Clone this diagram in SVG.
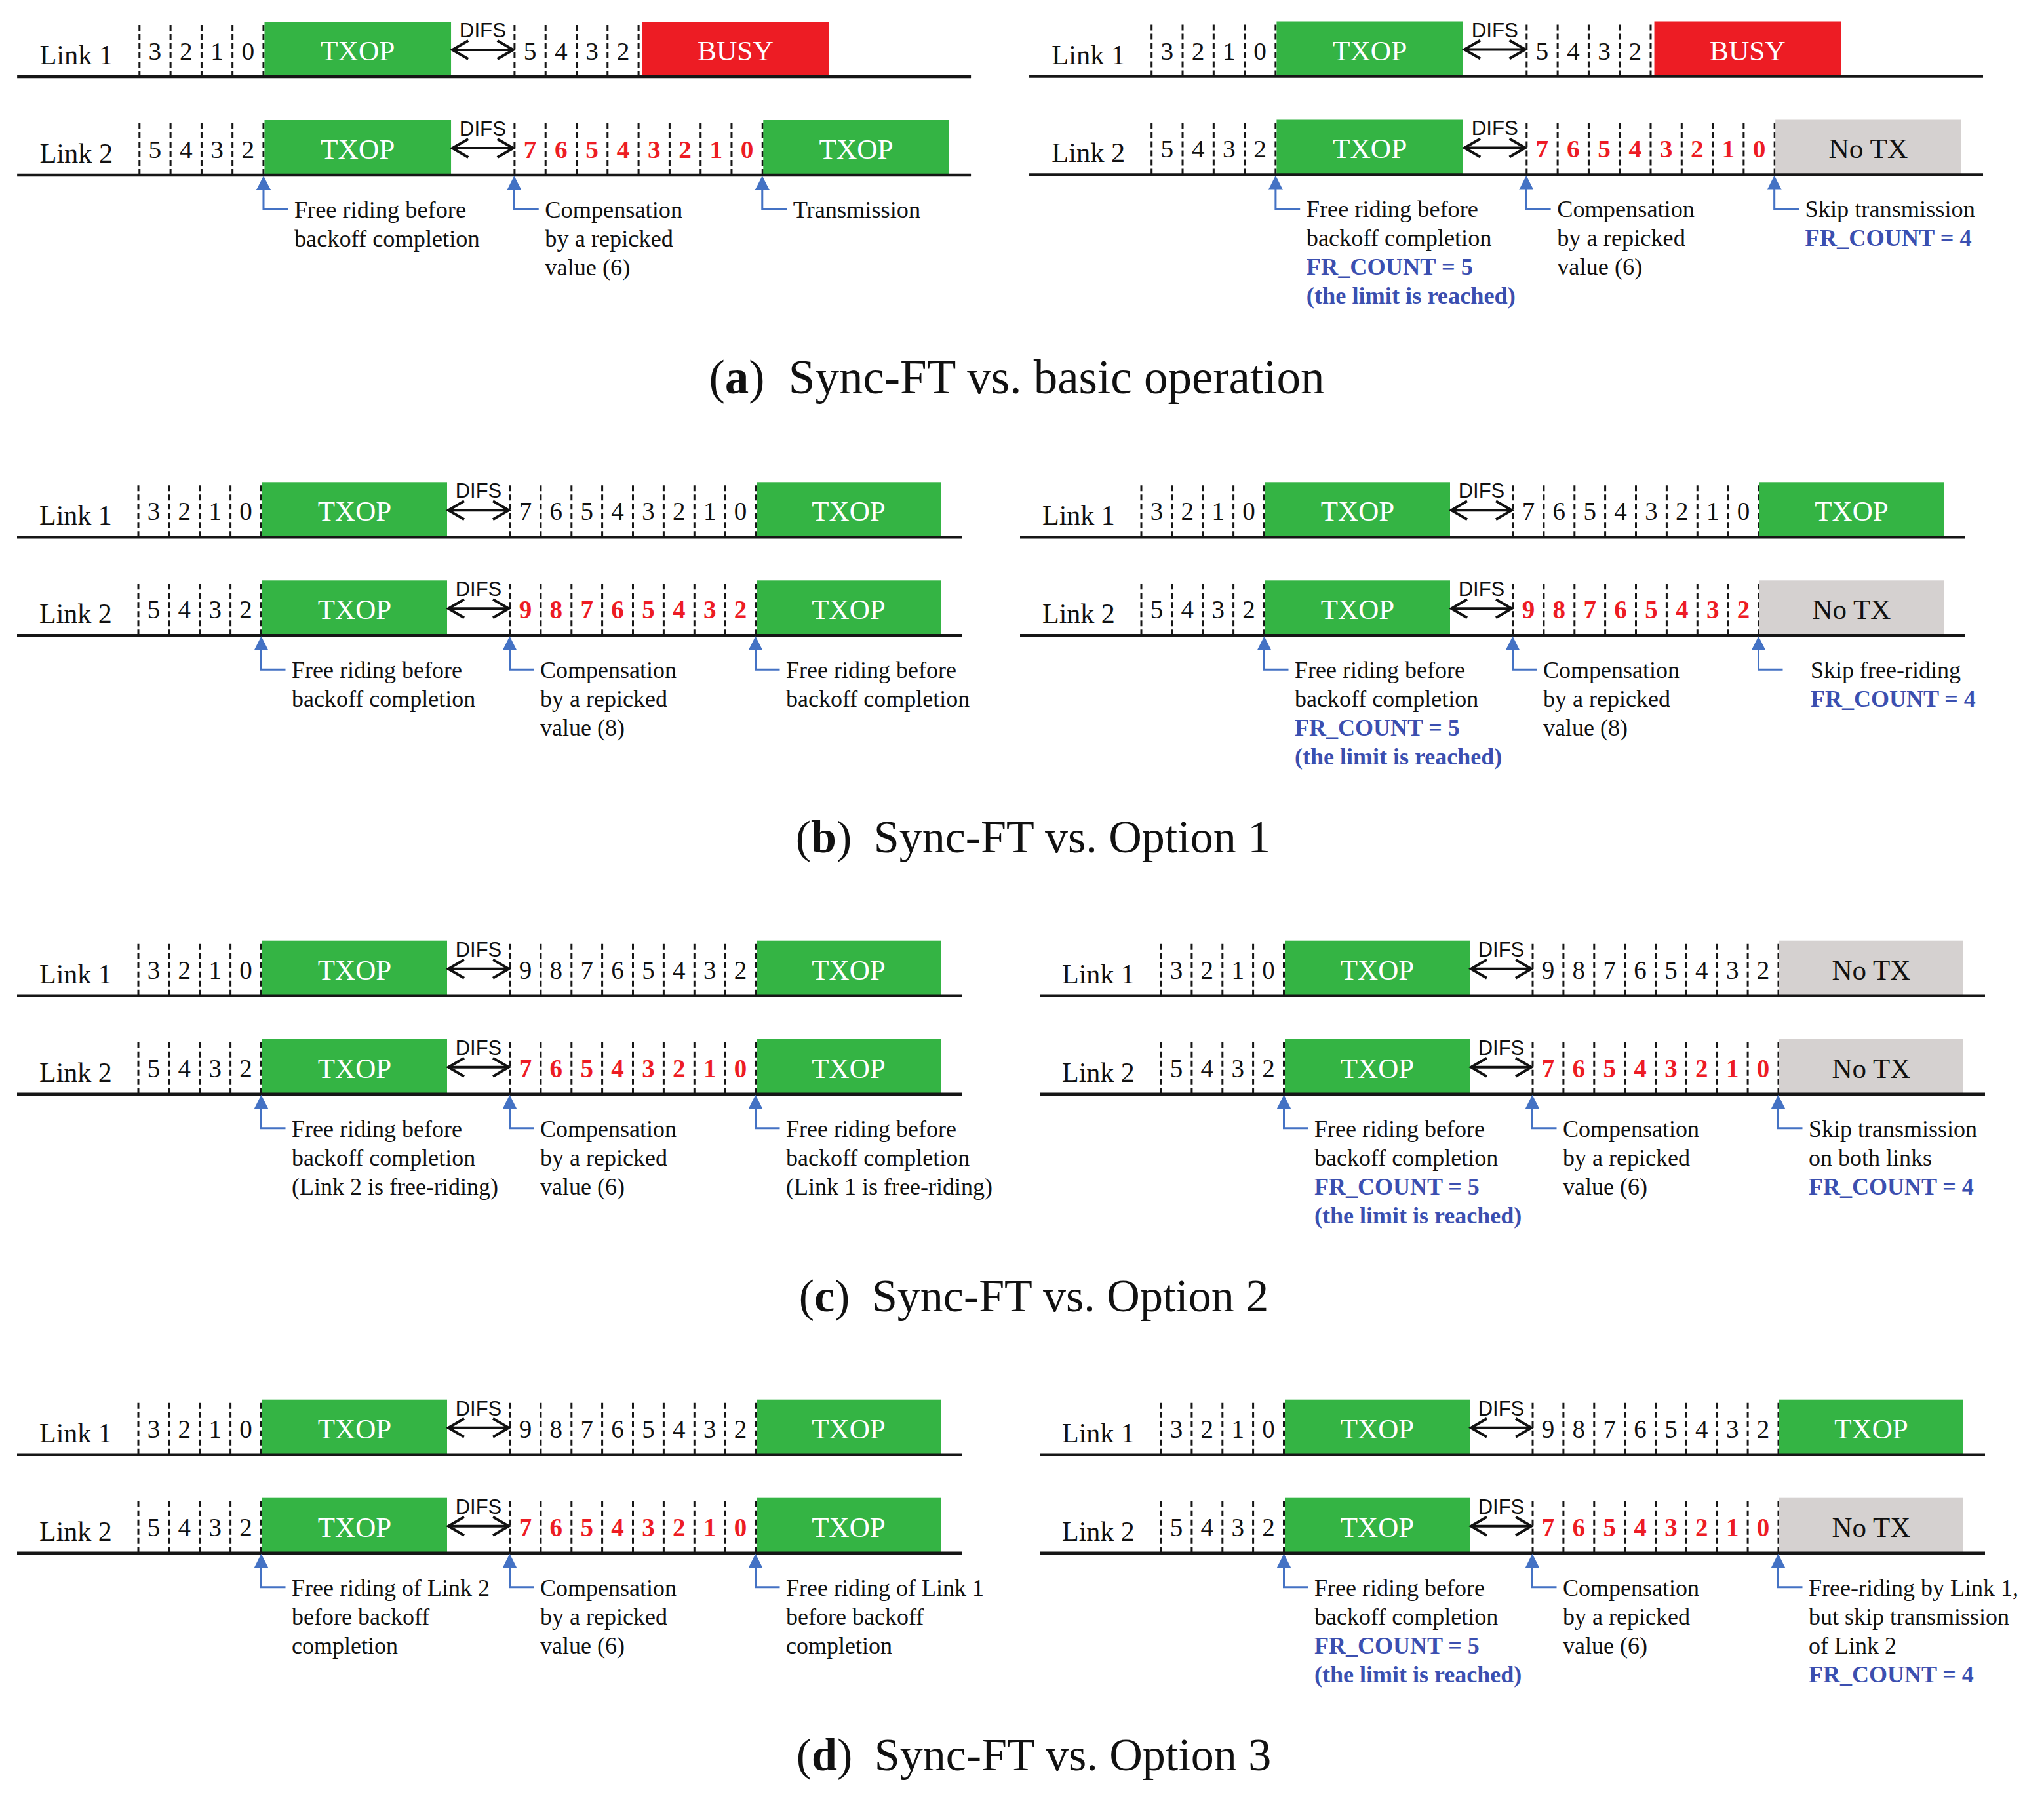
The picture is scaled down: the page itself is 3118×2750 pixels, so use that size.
<svg xmlns="http://www.w3.org/2000/svg" xmlns:xlink="http://www.w3.org/1999/xlink" width="3118" height="2750" viewBox="0 0 3118 2750">
<style>
.tl{stroke:#161616;stroke-width:4.5}
.dl{stroke:#161616;stroke-width:3;stroke-dasharray:9 5}
.g{fill:#34B444}
.r{fill:#ED1C24}
.n{fill:#D5D1D0}
.lb{font-family:"Liberation Serif",serif;font-size:42px;fill:#111}
.d{font-family:"Liberation Serif",serif;font-size:39px;fill:#111;text-anchor:middle}
.dr{font-family:"Liberation Serif",serif;font-size:39px;font-weight:bold;fill:#ED1C24;text-anchor:middle}
.w{font-family:"Liberation Serif",serif;font-size:43px;fill:#fff;text-anchor:middle}
.k{font-family:"Liberation Serif",serif;font-size:43px;fill:#111;text-anchor:middle}
.df{font-family:"Liberation Sans",sans-serif;font-size:31px;fill:#111;text-anchor:middle}
.da{stroke:#111;stroke-width:4;marker-start:url(#chev);marker-end:url(#chev)}
.a{font-family:"Liberation Serif",serif;font-size:36px;fill:#111}
.f{font-family:"Liberation Serif",serif;font-size:36px;font-weight:bold;fill:#3B4FB0}
.cap{font-family:"Liberation Serif",serif;font-size:73px;fill:#111;text-anchor:middle}
.cap2{font-family:"Liberation Serif",serif;font-size:70px;fill:#111;text-anchor:middle}
.con{fill:none;stroke:#4472C4;stroke-width:3;marker-end:url(#tri)}
</style>
<defs>
<marker id="tri" markerUnits="userSpaceOnUse" markerWidth="22" markerHeight="22" viewBox="0 0 22 22" refX="1" refY="11" orient="auto"><path d="M0,0L22,11L0,22z" fill="#4472C4"/></marker>
<marker id="chev" markerUnits="userSpaceOnUse" markerWidth="34" markerHeight="34" viewBox="-28 -17 34 34" refX="0" refY="0" orient="auto-start-reverse" overflow="visible"><path d="M-24,-14L0,0L-24,14" fill="none" stroke="#111" stroke-width="4"/></marker>
<g id="pre">
<line class="dl" x1="0" y1="-79" x2="0" y2="0"/><line class="dl" x1="46.9" y1="-79" x2="46.9" y2="0"/><line class="dl" x1="93.8" y1="-79" x2="93.8" y2="0"/><line class="dl" x1="140.6" y1="-79" x2="140.6" y2="0"/><line class="dl" x1="187.5" y1="-79" x2="187.5" y2="0"/>
</g>
<g id="post4">
<line class="dl" x1="567" y1="-79" x2="567" y2="0"/><line class="dl" x1="613.9" y1="-79" x2="613.9" y2="0"/><line class="dl" x1="660.8" y1="-79" x2="660.8" y2="0"/><line class="dl" x1="707.6" y1="-79" x2="707.6" y2="0"/><line class="dl" x1="754.5" y1="-79" x2="754.5" y2="0"/>
</g>
<g id="post">
<use xlink:href="#post4"/>
<line class="dl" x1="801.4" y1="-79" x2="801.4" y2="0"/><line class="dl" x1="848.3" y1="-79" x2="848.3" y2="0"/><line class="dl" x1="895.1" y1="-79" x2="895.1" y2="0"/><line class="dl" x1="942" y1="-79" x2="942" y2="0"/>
</g>
</defs>
<rect width="3118" height="2750" fill="#fff"/>

<!-- ===== (a) left ===== -->
<g id="panel-a-left" transform="translate(212.8,117) scale(1.009,1)">
<g id="aL-link1">
<use xlink:href="#pre"/><use xlink:href="#post4"/>
<text class="lb" x="-151" y="-19">Link 1</text>
<text class="d" x="23.4" y="-26">3</text><text class="d" x="70.3" y="-26">2</text><text class="d" x="117.2" y="-26">1</text><text class="d" x="164" y="-26">0</text>
<g id="aL-l1-txop"><rect class="g" x="189" y="-84" width="282" height="84"/><text class="w" x="330" y="-25">TXOP</text></g>
<text class="df" x="519" y="-60">DIFS</text><line class="da" x1="473" y1="-41" x2="565" y2="-41"/>
<text class="d" x="590.4" y="-26">5</text><text class="d" x="637.3" y="-26">4</text><text class="d" x="684.2" y="-26">3</text><text class="d" x="731.1" y="-26">2</text>
<g id="aL-l1-busy"><rect class="r" x="760" y="-84" width="282" height="84"/><text class="w" x="901" y="-25">BUSY</text></g>
<line class="tl" x1="-185" y1="0" x2="1257" y2="0"/>
</g>
<g id="aL-link2">
<use xlink:href="#pre" y="150"/><use xlink:href="#post" y="150"/>
<text class="lb" x="-151" y="131">Link 2</text>
<text class="d" x="23.4" y="124">5</text><text class="d" x="70.3" y="124">4</text><text class="d" x="117.2" y="124">3</text><text class="d" x="164" y="124">2</text>
<g id="aL-l2-txop"><rect class="g" x="189" y="66" width="282" height="84"/><text class="w" x="330" y="125">TXOP</text></g>
<text class="df" x="519" y="90">DIFS</text><line class="da" x1="473" y1="109" x2="565" y2="109"/>
<text class="dr" x="590.4" y="124">7</text><text class="dr" x="637.3" y="124">6</text><text class="dr" x="684.2" y="124">5</text><text class="dr" x="731.1" y="124">4</text><text class="dr" x="778" y="124">3</text><text class="dr" x="824.8" y="124">2</text><text class="dr" x="871.7" y="124">1</text><text class="dr" x="918.6" y="124">0</text>
<g id="aL-l2-txop2"><rect class="g" x="943" y="66" width="281" height="84"/><text class="w" x="1083.5" y="125">TXOP</text></g>
<line class="tl" x1="-185" y1="150" x2="1257" y2="150"/>
</g>
<g id="aL-notes">
<text class="a" x="234" y="215">Free riding before</text><text class="a" x="234" y="259">backoff completion</text>
<text class="a" x="613" y="215">Compensation</text><text class="a" x="613" y="259">by a repicked</text><text class="a" x="613" y="303">value (6)</text>
<text class="a" x="988" y="215">Transmission</text>
</g>
</g>

<!-- ===== (a) right ===== -->
<g id="panel-a-right" transform="translate(1756.7,116.5) scale(1.009,1)">
<g id="aR-link1">
<use xlink:href="#pre"/><use xlink:href="#post4"/>
<text class="lb" x="-151" y="-19">Link 1</text>
<text class="d" x="23.4" y="-26">3</text><text class="d" x="70.3" y="-26">2</text><text class="d" x="117.2" y="-26">1</text><text class="d" x="164" y="-26">0</text>
<g id="aR-l1-txop"><rect class="g" x="189" y="-84" width="282" height="84"/><text class="w" x="330" y="-25">TXOP</text></g>
<text class="df" x="519" y="-60">DIFS</text><line class="da" x1="473" y1="-41" x2="565" y2="-41"/>
<text class="d" x="590.4" y="-26">5</text><text class="d" x="637.3" y="-26">4</text><text class="d" x="684.2" y="-26">3</text><text class="d" x="731.1" y="-26">2</text>
<g id="aR-l1-busy"><rect class="r" x="760" y="-84" width="282" height="84"/><text class="w" x="901" y="-25">BUSY</text></g>
<line class="tl" x1="-185" y1="0" x2="1257" y2="0"/>
</g>
<g id="aR-link2">
<use xlink:href="#pre" y="150"/><use xlink:href="#post" y="150"/>
<text class="lb" x="-151" y="131">Link 2</text>
<text class="d" x="23.4" y="124">5</text><text class="d" x="70.3" y="124">4</text><text class="d" x="117.2" y="124">3</text><text class="d" x="164" y="124">2</text>
<g id="aR-l2-txop"><rect class="g" x="189" y="66" width="282" height="84"/><text class="w" x="330" y="125">TXOP</text></g>
<text class="df" x="519" y="90">DIFS</text><line class="da" x1="473" y1="109" x2="565" y2="109"/>
<text class="dr" x="590.4" y="124">7</text><text class="dr" x="637.3" y="124">6</text><text class="dr" x="684.2" y="124">5</text><text class="dr" x="731.1" y="124">4</text><text class="dr" x="778" y="124">3</text><text class="dr" x="824.8" y="124">2</text><text class="dr" x="871.7" y="124">1</text><text class="dr" x="918.6" y="124">0</text>
<g id="aR-l2-notx"><rect class="n" x="943" y="66" width="281" height="84"/><text class="k" x="1083.5" y="125">No TX</text></g>
<line class="tl" x1="-185" y1="150" x2="1257" y2="150"/>
</g>
<g id="aR-notes">
<text class="a" x="234" y="215">Free riding before</text><text class="a" x="234" y="259">backoff completion</text><text class="f" x="234" y="303">FR_COUNT = 5</text><text class="f" x="234" y="347">(the limit is reached)</text>
<text class="a" x="613" y="215">Compensation</text><text class="a" x="613" y="259">by a repicked</text><text class="a" x="613" y="303">value (6)</text>
<text class="a" x="988" y="215">Skip transmission</text><text class="f" x="988" y="259">FR_COUNT = 4</text>
</g>
</g>

<!-- ===== (b) left ===== -->
<g id="panel-b-left" transform="translate(211,819.3)">
<g id="bL-link1">
<use xlink:href="#pre"/><use xlink:href="#post"/>
<text class="lb" x="-151" y="-19">Link 1</text>
<text class="d" x="23.4" y="-26">3</text><text class="d" x="70.3" y="-26">2</text><text class="d" x="117.2" y="-26">1</text><text class="d" x="164" y="-26">0</text>
<g id="bL-l1-txop"><rect class="g" x="189" y="-84" width="282" height="84"/><text class="w" x="330" y="-25">TXOP</text></g>
<text class="df" x="519" y="-60">DIFS</text><line class="da" x1="473" y1="-41" x2="565" y2="-41"/>
<text class="d" x="590.4" y="-26">7</text><text class="d" x="637.3" y="-26">6</text><text class="d" x="684.2" y="-26">5</text><text class="d" x="731.1" y="-26">4</text><text class="d" x="778" y="-26">3</text><text class="d" x="824.8" y="-26">2</text><text class="d" x="871.7" y="-26">1</text><text class="d" x="918.6" y="-26">0</text>
<g id="bL-l1-txop2"><rect class="g" x="943" y="-84" width="281" height="84"/><text class="w" x="1083.5" y="-25">TXOP</text></g>
<line class="tl" x1="-185" y1="0" x2="1257" y2="0"/>
</g>
<g id="bL-link2">
<use xlink:href="#pre" y="150"/><use xlink:href="#post" y="150"/>
<text class="lb" x="-151" y="131">Link 2</text>
<text class="d" x="23.4" y="124">5</text><text class="d" x="70.3" y="124">4</text><text class="d" x="117.2" y="124">3</text><text class="d" x="164" y="124">2</text>
<g id="bL-l2-txop"><rect class="g" x="189" y="66" width="282" height="84"/><text class="w" x="330" y="125">TXOP</text></g>
<text class="df" x="519" y="90">DIFS</text><line class="da" x1="473" y1="109" x2="565" y2="109"/>
<text class="dr" x="590.4" y="124">9</text><text class="dr" x="637.3" y="124">8</text><text class="dr" x="684.2" y="124">7</text><text class="dr" x="731.1" y="124">6</text><text class="dr" x="778" y="124">5</text><text class="dr" x="824.8" y="124">4</text><text class="dr" x="871.7" y="124">3</text><text class="dr" x="918.6" y="124">2</text>
<g id="bL-l2-txop2"><rect class="g" x="943" y="66" width="281" height="84"/><text class="w" x="1083.5" y="125">TXOP</text></g>
<line class="tl" x1="-185" y1="150" x2="1257" y2="150"/>
</g>
<g id="bL-notes">
<text class="a" x="234" y="215">Free riding before</text><text class="a" x="234" y="259">backoff completion</text>
<text class="a" x="613" y="215">Compensation</text><text class="a" x="613" y="259">by a repicked</text><text class="a" x="613" y="303">value (8)</text>
<text class="a" x="988" y="215">Free riding before</text><text class="a" x="988" y="259">backoff completion</text>
</g>
</g>

<!-- ===== (b) right ===== -->
<g id="panel-b-right" transform="translate(1741,819.3)">
<g id="bR-link1">
<use xlink:href="#pre"/><use xlink:href="#post"/>
<text class="lb" x="-151" y="-19">Link 1</text>
<text class="d" x="23.4" y="-26">3</text><text class="d" x="70.3" y="-26">2</text><text class="d" x="117.2" y="-26">1</text><text class="d" x="164" y="-26">0</text>
<g id="bR-l1-txop"><rect class="g" x="189" y="-84" width="282" height="84"/><text class="w" x="330" y="-25">TXOP</text></g>
<text class="df" x="519" y="-60">DIFS</text><line class="da" x1="473" y1="-41" x2="565" y2="-41"/>
<text class="d" x="590.4" y="-26">7</text><text class="d" x="637.3" y="-26">6</text><text class="d" x="684.2" y="-26">5</text><text class="d" x="731.1" y="-26">4</text><text class="d" x="778" y="-26">3</text><text class="d" x="824.8" y="-26">2</text><text class="d" x="871.7" y="-26">1</text><text class="d" x="918.6" y="-26">0</text>
<g id="bR-l1-txop2"><rect class="g" x="943" y="-84" width="281" height="84"/><text class="w" x="1083.5" y="-25">TXOP</text></g>
<line class="tl" x1="-185" y1="0" x2="1257" y2="0"/>
</g>
<g id="bR-link2">
<use xlink:href="#pre" y="150"/><use xlink:href="#post" y="150"/>
<text class="lb" x="-151" y="131">Link 2</text>
<text class="d" x="23.4" y="124">5</text><text class="d" x="70.3" y="124">4</text><text class="d" x="117.2" y="124">3</text><text class="d" x="164" y="124">2</text>
<g id="bR-l2-txop"><rect class="g" x="189" y="66" width="282" height="84"/><text class="w" x="330" y="125">TXOP</text></g>
<text class="df" x="519" y="90">DIFS</text><line class="da" x1="473" y1="109" x2="565" y2="109"/>
<text class="dr" x="590.4" y="124">9</text><text class="dr" x="637.3" y="124">8</text><text class="dr" x="684.2" y="124">7</text><text class="dr" x="731.1" y="124">6</text><text class="dr" x="778" y="124">5</text><text class="dr" x="824.8" y="124">4</text><text class="dr" x="871.7" y="124">3</text><text class="dr" x="918.6" y="124">2</text>
<g id="bR-l2-notx"><rect class="n" x="943" y="66" width="281" height="84"/><text class="k" x="1083.5" y="125">No TX</text></g>
<line class="tl" x1="-185" y1="150" x2="1257" y2="150"/>
</g>
<g id="bR-notes">
<text class="a" x="234" y="215">Free riding before</text><text class="a" x="234" y="259">backoff completion</text><text class="f" x="234" y="303">FR_COUNT = 5</text><text class="f" x="234" y="347">(the limit is reached)</text>
<text class="a" x="613" y="215">Compensation</text><text class="a" x="613" y="259">by a repicked</text><text class="a" x="613" y="303">value (8)</text>
<text class="a" x="1021" y="215">Skip free-riding</text><text class="f" x="1021" y="259">FR_COUNT = 4</text>
</g>
</g>

<!-- ===== (c) left ===== -->
<g id="panel-c-left" transform="translate(211,1518.7)">
<g id="cL-link1">
<use xlink:href="#pre"/><use xlink:href="#post"/>
<text class="lb" x="-151" y="-19">Link 1</text>
<text class="d" x="23.4" y="-26">3</text><text class="d" x="70.3" y="-26">2</text><text class="d" x="117.2" y="-26">1</text><text class="d" x="164" y="-26">0</text>
<g id="cL-l1-txop"><rect class="g" x="189" y="-84" width="282" height="84"/><text class="w" x="330" y="-25">TXOP</text></g>
<text class="df" x="519" y="-60">DIFS</text><line class="da" x1="473" y1="-41" x2="565" y2="-41"/>
<text class="d" x="590.4" y="-26">9</text><text class="d" x="637.3" y="-26">8</text><text class="d" x="684.2" y="-26">7</text><text class="d" x="731.1" y="-26">6</text><text class="d" x="778" y="-26">5</text><text class="d" x="824.8" y="-26">4</text><text class="d" x="871.7" y="-26">3</text><text class="d" x="918.6" y="-26">2</text>
<g id="cL-l1-txop2"><rect class="g" x="943" y="-84" width="281" height="84"/><text class="w" x="1083.5" y="-25">TXOP</text></g>
<line class="tl" x1="-185" y1="0" x2="1257" y2="0"/>
</g>
<g id="cL-link2">
<use xlink:href="#pre" y="150"/><use xlink:href="#post" y="150"/>
<text class="lb" x="-151" y="131">Link 2</text>
<text class="d" x="23.4" y="124">5</text><text class="d" x="70.3" y="124">4</text><text class="d" x="117.2" y="124">3</text><text class="d" x="164" y="124">2</text>
<g id="cL-l2-txop"><rect class="g" x="189" y="66" width="282" height="84"/><text class="w" x="330" y="125">TXOP</text></g>
<text class="df" x="519" y="90">DIFS</text><line class="da" x1="473" y1="109" x2="565" y2="109"/>
<text class="dr" x="590.4" y="124">7</text><text class="dr" x="637.3" y="124">6</text><text class="dr" x="684.2" y="124">5</text><text class="dr" x="731.1" y="124">4</text><text class="dr" x="778" y="124">3</text><text class="dr" x="824.8" y="124">2</text><text class="dr" x="871.7" y="124">1</text><text class="dr" x="918.6" y="124">0</text>
<g id="cL-l2-txop2"><rect class="g" x="943" y="66" width="281" height="84"/><text class="w" x="1083.5" y="125">TXOP</text></g>
<line class="tl" x1="-185" y1="150" x2="1257" y2="150"/>
</g>
<g id="cL-notes">
<text class="a" x="234" y="215">Free riding before</text><text class="a" x="234" y="259">backoff completion</text><text class="a" x="234" y="303">(Link 2 is free-riding)</text>
<text class="a" x="613" y="215">Compensation</text><text class="a" x="613" y="259">by a repicked</text><text class="a" x="613" y="303">value (6)</text>
<text class="a" x="988" y="215">Free riding before</text><text class="a" x="988" y="259">backoff completion</text><text class="a" x="988" y="303">(Link 1 is free-riding)</text>
</g>
</g>

<!-- ===== (c) right ===== -->
<g id="panel-c-right" transform="translate(1771,1518.7)">
<g id="cR-link1">
<use xlink:href="#pre"/><use xlink:href="#post"/>
<text class="lb" x="-151" y="-19">Link 1</text>
<text class="d" x="23.4" y="-26">3</text><text class="d" x="70.3" y="-26">2</text><text class="d" x="117.2" y="-26">1</text><text class="d" x="164" y="-26">0</text>
<g id="cR-l1-txop"><rect class="g" x="189" y="-84" width="282" height="84"/><text class="w" x="330" y="-25">TXOP</text></g>
<text class="df" x="519" y="-60">DIFS</text><line class="da" x1="473" y1="-41" x2="565" y2="-41"/>
<text class="d" x="590.4" y="-26">9</text><text class="d" x="637.3" y="-26">8</text><text class="d" x="684.2" y="-26">7</text><text class="d" x="731.1" y="-26">6</text><text class="d" x="778" y="-26">5</text><text class="d" x="824.8" y="-26">4</text><text class="d" x="871.7" y="-26">3</text><text class="d" x="918.6" y="-26">2</text>
<g id="cR-l1-notx"><rect class="n" x="943" y="-84" width="281" height="84"/><text class="k" x="1083.5" y="-25">No TX</text></g>
<line class="tl" x1="-185" y1="0" x2="1257" y2="0"/>
</g>
<g id="cR-link2">
<use xlink:href="#pre" y="150"/><use xlink:href="#post" y="150"/>
<text class="lb" x="-151" y="131">Link 2</text>
<text class="d" x="23.4" y="124">5</text><text class="d" x="70.3" y="124">4</text><text class="d" x="117.2" y="124">3</text><text class="d" x="164" y="124">2</text>
<g id="cR-l2-txop"><rect class="g" x="189" y="66" width="282" height="84"/><text class="w" x="330" y="125">TXOP</text></g>
<text class="df" x="519" y="90">DIFS</text><line class="da" x1="473" y1="109" x2="565" y2="109"/>
<text class="dr" x="590.4" y="124">7</text><text class="dr" x="637.3" y="124">6</text><text class="dr" x="684.2" y="124">5</text><text class="dr" x="731.1" y="124">4</text><text class="dr" x="778" y="124">3</text><text class="dr" x="824.8" y="124">2</text><text class="dr" x="871.7" y="124">1</text><text class="dr" x="918.6" y="124">0</text>
<g id="cR-l2-notx"><rect class="n" x="943" y="66" width="281" height="84"/><text class="k" x="1083.5" y="125">No TX</text></g>
<line class="tl" x1="-185" y1="150" x2="1257" y2="150"/>
</g>
<g id="cR-notes">
<text class="a" x="234" y="215">Free riding before</text><text class="a" x="234" y="259">backoff completion</text><text class="f" x="234" y="303">FR_COUNT = 5</text><text class="f" x="234" y="347">(the limit is reached)</text>
<text class="a" x="613" y="215">Compensation</text><text class="a" x="613" y="259">by a repicked</text><text class="a" x="613" y="303">value (6)</text>
<text class="a" x="988" y="215">Skip transmission</text><text class="a" x="988" y="259">on both links</text><text class="f" x="988" y="303">FR_COUNT = 4</text>
</g>
</g>

<!-- ===== (d) left ===== -->
<g id="panel-d-left" transform="translate(211,2218.7)">
<g id="dL-link1">
<use xlink:href="#pre"/><use xlink:href="#post"/>
<text class="lb" x="-151" y="-19">Link 1</text>
<text class="d" x="23.4" y="-26">3</text><text class="d" x="70.3" y="-26">2</text><text class="d" x="117.2" y="-26">1</text><text class="d" x="164" y="-26">0</text>
<g id="dL-l1-txop"><rect class="g" x="189" y="-84" width="282" height="84"/><text class="w" x="330" y="-25">TXOP</text></g>
<text class="df" x="519" y="-60">DIFS</text><line class="da" x1="473" y1="-41" x2="565" y2="-41"/>
<text class="d" x="590.4" y="-26">9</text><text class="d" x="637.3" y="-26">8</text><text class="d" x="684.2" y="-26">7</text><text class="d" x="731.1" y="-26">6</text><text class="d" x="778" y="-26">5</text><text class="d" x="824.8" y="-26">4</text><text class="d" x="871.7" y="-26">3</text><text class="d" x="918.6" y="-26">2</text>
<g id="dL-l1-txop2"><rect class="g" x="943" y="-84" width="281" height="84"/><text class="w" x="1083.5" y="-25">TXOP</text></g>
<line class="tl" x1="-185" y1="0" x2="1257" y2="0"/>
</g>
<g id="dL-link2">
<use xlink:href="#pre" y="150"/><use xlink:href="#post" y="150"/>
<text class="lb" x="-151" y="131">Link 2</text>
<text class="d" x="23.4" y="124">5</text><text class="d" x="70.3" y="124">4</text><text class="d" x="117.2" y="124">3</text><text class="d" x="164" y="124">2</text>
<g id="dL-l2-txop"><rect class="g" x="189" y="66" width="282" height="84"/><text class="w" x="330" y="125">TXOP</text></g>
<text class="df" x="519" y="90">DIFS</text><line class="da" x1="473" y1="109" x2="565" y2="109"/>
<text class="dr" x="590.4" y="124">7</text><text class="dr" x="637.3" y="124">6</text><text class="dr" x="684.2" y="124">5</text><text class="dr" x="731.1" y="124">4</text><text class="dr" x="778" y="124">3</text><text class="dr" x="824.8" y="124">2</text><text class="dr" x="871.7" y="124">1</text><text class="dr" x="918.6" y="124">0</text>
<g id="dL-l2-txop2"><rect class="g" x="943" y="66" width="281" height="84"/><text class="w" x="1083.5" y="125">TXOP</text></g>
<line class="tl" x1="-185" y1="150" x2="1257" y2="150"/>
</g>
<g id="dL-notes">
<text class="a" x="234" y="215">Free riding of Link 2</text><text class="a" x="234" y="259">before backoff</text><text class="a" x="234" y="303">completion</text>
<text class="a" x="613" y="215">Compensation</text><text class="a" x="613" y="259">by a repicked</text><text class="a" x="613" y="303">value (6)</text>
<text class="a" x="988" y="215">Free riding of Link 1</text><text class="a" x="988" y="259">before backoff</text><text class="a" x="988" y="303">completion</text>
</g>
</g>

<!-- ===== (d) right ===== -->
<g id="panel-d-right" transform="translate(1771,2218.7)">
<g id="dR-link1">
<use xlink:href="#pre"/><use xlink:href="#post"/>
<text class="lb" x="-151" y="-19">Link 1</text>
<text class="d" x="23.4" y="-26">3</text><text class="d" x="70.3" y="-26">2</text><text class="d" x="117.2" y="-26">1</text><text class="d" x="164" y="-26">0</text>
<g id="dR-l1-txop"><rect class="g" x="189" y="-84" width="282" height="84"/><text class="w" x="330" y="-25">TXOP</text></g>
<text class="df" x="519" y="-60">DIFS</text><line class="da" x1="473" y1="-41" x2="565" y2="-41"/>
<text class="d" x="590.4" y="-26">9</text><text class="d" x="637.3" y="-26">8</text><text class="d" x="684.2" y="-26">7</text><text class="d" x="731.1" y="-26">6</text><text class="d" x="778" y="-26">5</text><text class="d" x="824.8" y="-26">4</text><text class="d" x="871.7" y="-26">3</text><text class="d" x="918.6" y="-26">2</text>
<g id="dR-l1-txop2"><rect class="g" x="943" y="-84" width="281" height="84"/><text class="w" x="1083.5" y="-25">TXOP</text></g>
<line class="tl" x1="-185" y1="0" x2="1257" y2="0"/>
</g>
<g id="dR-link2">
<use xlink:href="#pre" y="150"/><use xlink:href="#post" y="150"/>
<text class="lb" x="-151" y="131">Link 2</text>
<text class="d" x="23.4" y="124">5</text><text class="d" x="70.3" y="124">4</text><text class="d" x="117.2" y="124">3</text><text class="d" x="164" y="124">2</text>
<g id="dR-l2-txop"><rect class="g" x="189" y="66" width="282" height="84"/><text class="w" x="330" y="125">TXOP</text></g>
<text class="df" x="519" y="90">DIFS</text><line class="da" x1="473" y1="109" x2="565" y2="109"/>
<text class="dr" x="590.4" y="124">7</text><text class="dr" x="637.3" y="124">6</text><text class="dr" x="684.2" y="124">5</text><text class="dr" x="731.1" y="124">4</text><text class="dr" x="778" y="124">3</text><text class="dr" x="824.8" y="124">2</text><text class="dr" x="871.7" y="124">1</text><text class="dr" x="918.6" y="124">0</text>
<g id="dR-l2-notx"><rect class="n" x="943" y="66" width="281" height="84"/><text class="k" x="1083.5" y="125">No TX</text></g>
<line class="tl" x1="-185" y1="150" x2="1257" y2="150"/>
</g>
<g id="dR-notes">
<text class="a" x="234" y="215">Free riding before</text><text class="a" x="234" y="259">backoff completion</text><text class="f" x="234" y="303">FR_COUNT = 5</text><text class="f" x="234" y="347">(the limit is reached)</text>
<text class="a" x="613" y="215">Compensation</text><text class="a" x="613" y="259">by a repicked</text><text class="a" x="613" y="303">value (6)</text>
<text class="a" x="988" y="215">Free-riding by Link 1,</text><text class="a" x="988" y="259">but skip transmission</text><text class="a" x="988" y="303">of Link 2</text><text class="f" x="988" y="347">FR_COUNT = 4</text>
</g>
</g>

<!-- ===== connectors ===== -->
<g id="connectors">
<g transform="translate(212.8,117) scale(1.009,1)"><path class="con" d="M224.5,202H187.5V172"/><path class="con" d="M603.5,202H566.5V172"/><path class="con" d="M978.5,202H941.5V172"/></g>
<g transform="translate(1756.7,116.5) scale(1.009,1)"><path class="con" d="M224.5,202H187.5V172"/><path class="con" d="M603.5,202H566.5V172"/><path class="con" d="M978.5,202H941.5V172"/></g>
<g transform="translate(211,819.3)"><path class="con" d="M224.5,202H187.5V172"/><path class="con" d="M603.5,202H566.5V172"/><path class="con" d="M978.5,202H941.5V172"/></g>
<g transform="translate(1741,819.3)"><path class="con" d="M224.5,202H187.5V172"/><path class="con" d="M603.5,202H566.5V172"/><path class="con" d="M978.5,202H941.5V172"/></g>
<g transform="translate(211,1518.7)"><path class="con" d="M224.5,202H187.5V172"/><path class="con" d="M603.5,202H566.5V172"/><path class="con" d="M978.5,202H941.5V172"/></g>
<g transform="translate(1771,1518.7)"><path class="con" d="M224.5,202H187.5V172"/><path class="con" d="M603.5,202H566.5V172"/><path class="con" d="M978.5,202H941.5V172"/></g>
<g transform="translate(211,2218.7)"><path class="con" d="M224.5,202H187.5V172"/><path class="con" d="M603.5,202H566.5V172"/><path class="con" d="M978.5,202H941.5V172"/></g>
<g transform="translate(1771,2218.7)"><path class="con" d="M224.5,202H187.5V172"/><path class="con" d="M603.5,202H566.5V172"/><path class="con" d="M978.5,202H941.5V172"/></g>
</g>

<!-- ===== captions ===== -->
<g id="captions">
<text class="cap" x="1551" y="600">(<tspan font-weight="bold">a</tspan>) <tspan dx="18">Sync-FT vs. basic operation</tspan></text>
<text class="cap2" x="1576" y="1300">(<tspan font-weight="bold">b</tspan>) <tspan dx="16">Sync-FT vs. Option 1</tspan></text>
<text class="cap2" x="1577" y="2000">(<tspan font-weight="bold">c</tspan>) <tspan dx="16">Sync-FT vs. Option 2</tspan></text>
<text class="cap2" x="1577" y="2700">(<tspan font-weight="bold">d</tspan>) <tspan dx="16">Sync-FT vs. Option 3</tspan></text>
</g>
</svg>
